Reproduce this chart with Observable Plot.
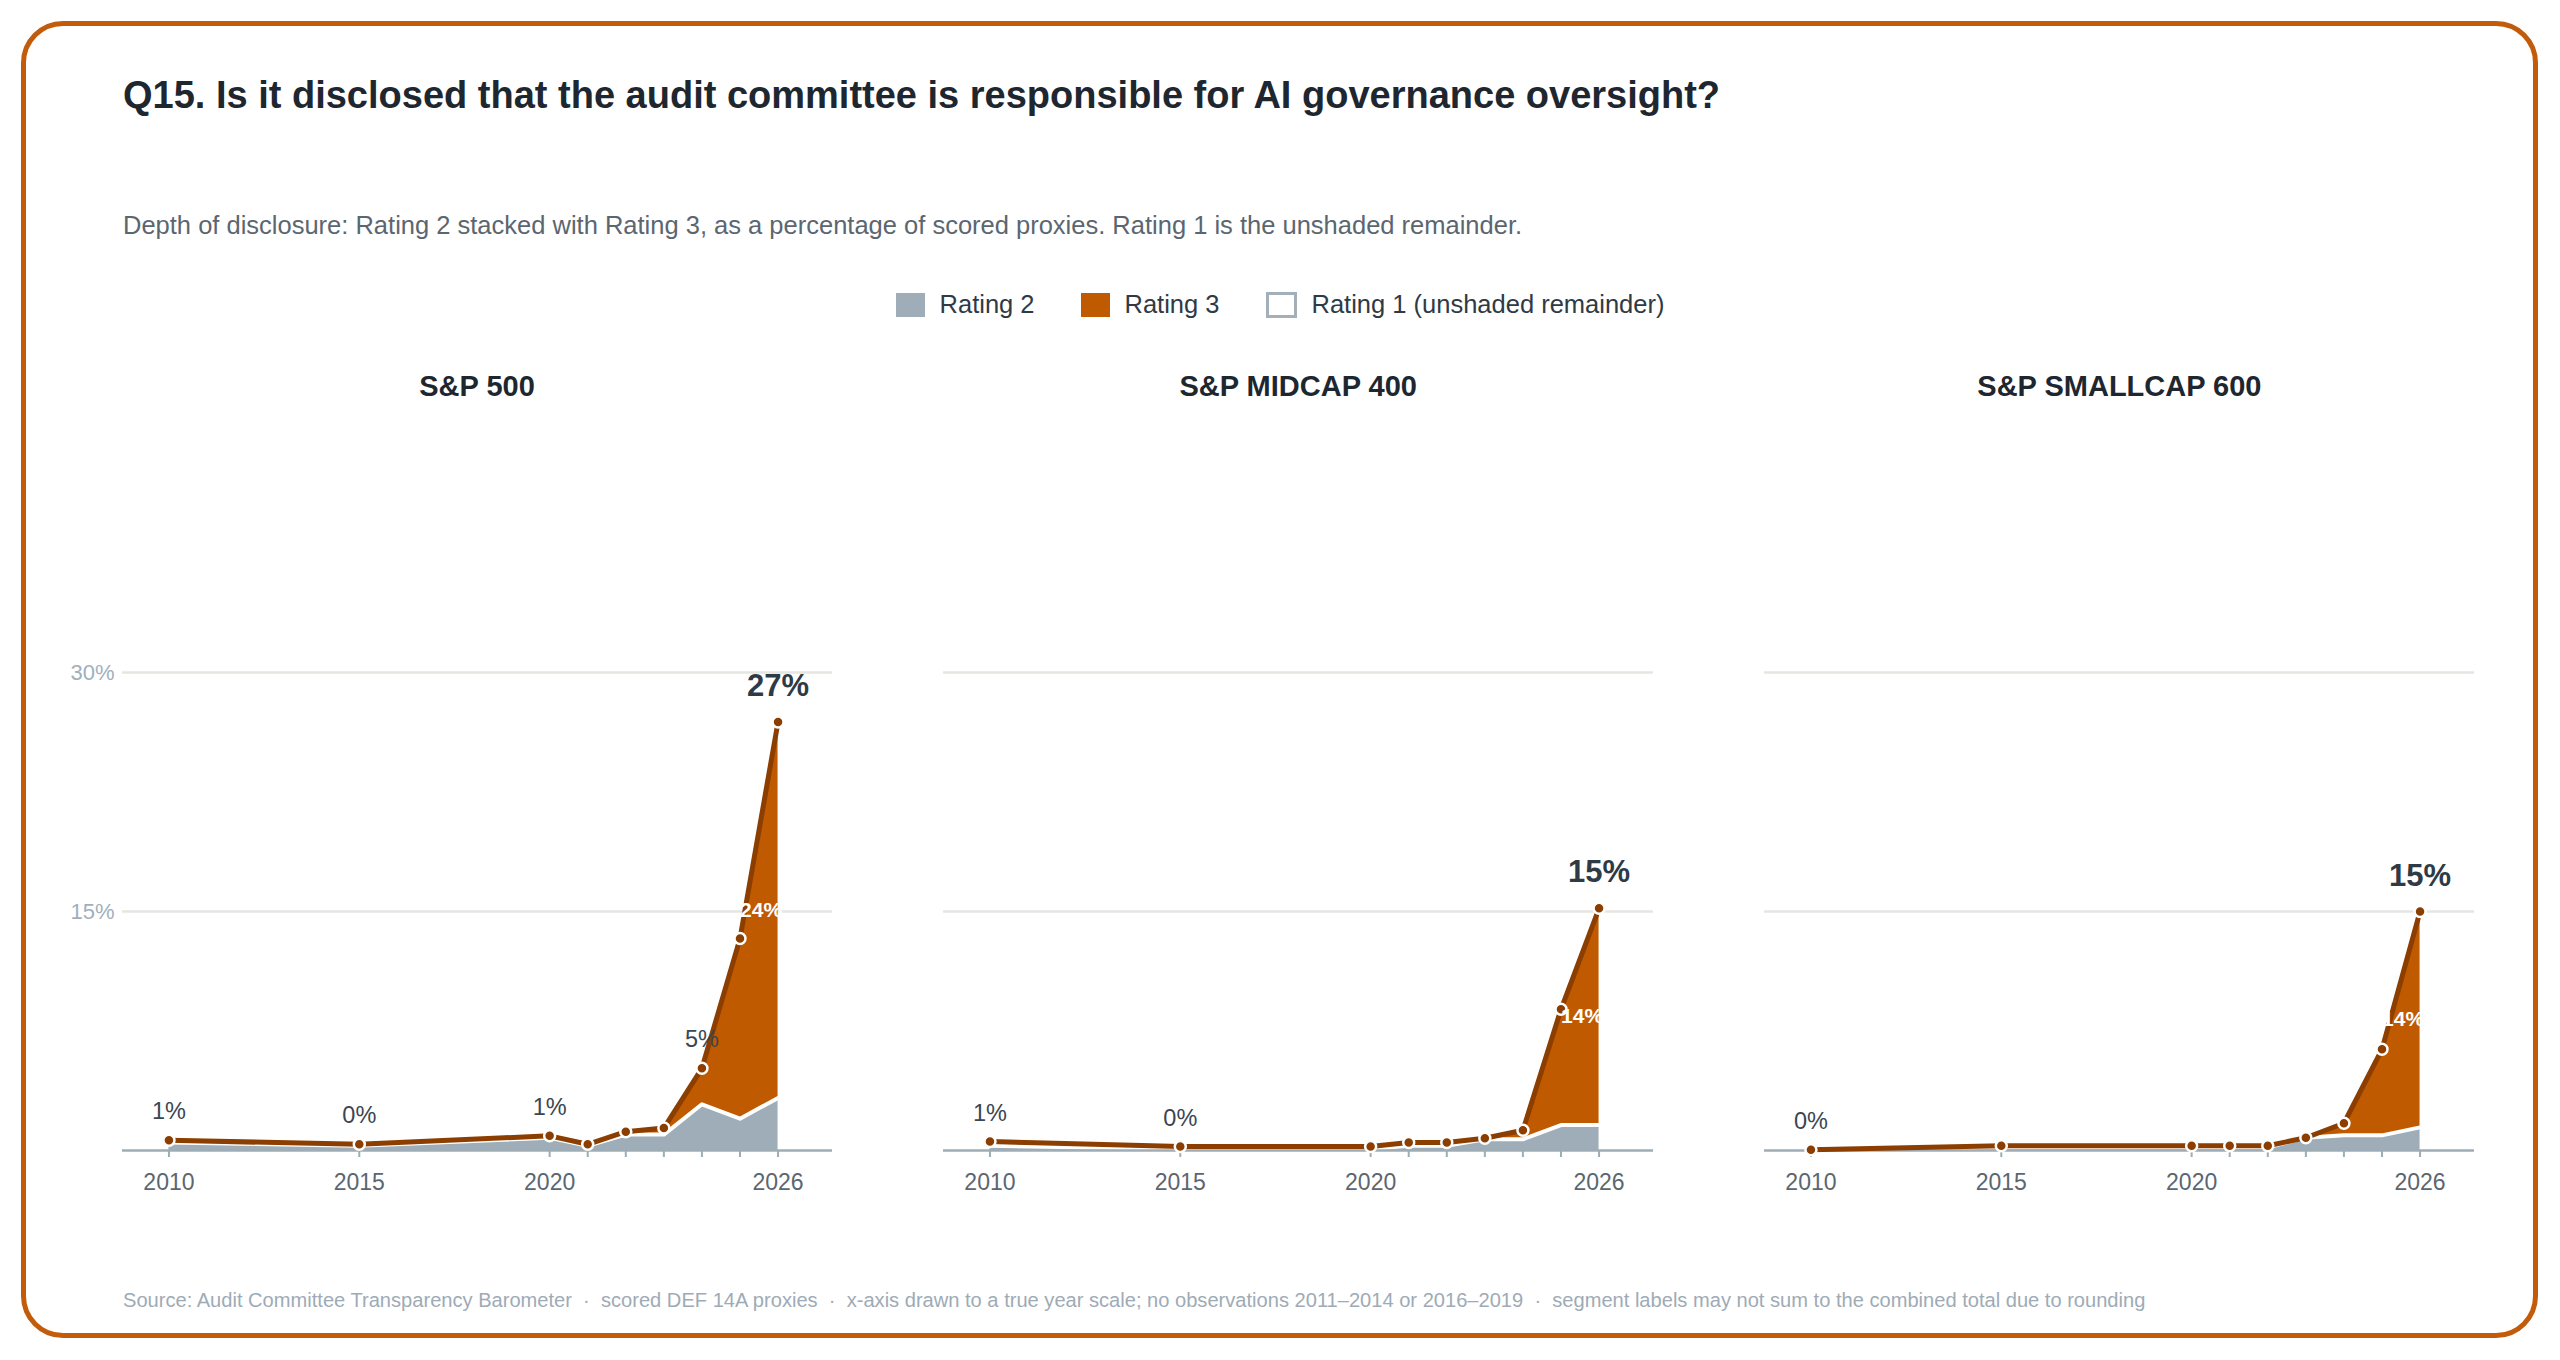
<!DOCTYPE html>
<html>
<head>
<meta charset="utf-8">
<script src="https://cdn.jsdelivr.net/npm/d3@7"></script>
<script src="https://cdn.jsdelivr.net/npm/@observablehq/plot@0.6"></script>
<style>
  html, body { margin: 0; padding: 0; background: #fff; }
  #root { position: relative; width: 2560px; height: 1360px; overflow: hidden;
          font-family: "Liberation Sans", Arial, sans-serif; }
  .frame { position: absolute; left: 21px; top: 21px; width: 2517px; height: 1317px;
           box-sizing: border-box; border: 5px solid #c25b0a; border-radius: 42px; }
  .txt { position: absolute; line-height: 1; white-space: pre; }
  #title { left: 123px; top: 76px; font-size: 38px; font-weight: bold; color: #1e2730; }
  #subtitle { left: 123px; top: 213px; font-size: 25.5px; color: #5b6670; }
  #legend { position: absolute; left: 0; top: 292px; width: 2560px; height: 26px;
            display: flex; justify-content: center; align-items: center;
            font-size: 25.5px; line-height: 1; color: #2f3a45; }
  .item { display: flex; align-items: center; margin: 0 23px; }
  .sw { width: 29px; height: 24px; margin-right: 15px; box-sizing: border-box; }
  .ptitle { position: absolute; top: 371.5px; width: 710px; text-align: center; font-size: 29px;
            font-weight: bold; color: #1e2730; line-height: 1; }
  .panel { position: absolute; top: 591.5px; }
  #footer { left: 123px; top: 1290px; font-size: 20.1px; color: #9eabb6; }
</style>
</head>
<body>
<div id="root">
  <div class="frame"></div>
  <div class="txt" id="title"></div>
  <div class="txt" id="subtitle"></div>
  <div id="legend"></div>
  <div class="txt" id="footer"></div>
</div>
<script>
// ---- data ----
const years = [2010, 2015, 2020, 2021, 2022, 2023, 2024, 2025, 2026];
const indexNames = ["S&P 500", "S&P MIDCAP 400", "S&P SMALLCAP 600"];
const rating2SP500    = [0.50, 0.30, 0.80, 0.30, 1.00, 1.00, 2.90, 2.00, 3.30];
const rating3SP500    = [0.14, 0.09, 0.12, 0.09, 0.18, 0.41, 2.26, 11.30, 23.60];
const rating2Midcap   = [0.30, 0.10, 0.10, 0.30, 0.30, 0.70, 0.70, 1.60, 1.60];
const rating3Midcap   = [0.26, 0.15, 0.15, 0.20, 0.20, 0.07, 0.57, 7.26, 13.60];
const rating2Smallcap = [0.00, 0.20, 0.20, 0.20, 0.20, 0.80, 0.95, 0.95, 1.45];
const rating3Smallcap = [0.05, 0.10, 0.10, 0.10, 0.10, 0.00, 0.76, 5.40, 13.55];
const labelYears = [[2010, 2015, 2020, 2024], [2010, 2015], [2010]];
const xTickLabels = [2010, 2015, 2020, 2026];
const yTicks = [15, 30];
const legendItems = ["Rating 2", "Rating 3", "Rating 1 (unshaded remainder)"];

const titleText = "Q15. Is it disclosed that the audit committee is responsible for AI governance oversight?";
const subtitleText = "Depth of disclosure: Rating 2 stacked with Rating 3, as a percentage of scored proxies. Rating 1 is the unshaded remainder.";
const footerText = "Source: Audit Committee Transparency Barometer  \u00b7  scored DEF 14A proxies  \u00b7  x-axis drawn to a true year scale; no observations 2011\u20132014 or 2016\u20132019  \u00b7  segment labels may not sum to the combined total due to rounding";

const rating2 = [rating2SP500, rating2Midcap, rating2Smallcap];
const rating3 = [rating3SP500, rating3Midcap, rating3Smallcap];

// ---- style ----
const FONT = '"Liberation Sans", Arial, sans-serif';
const C_R2 = "#9eadb7", C_R3 = "#c05a00", C_LINE = "#8b3e00";
const frameLefts = [122, 943.2, 1764.4];
const FRAME_W = 710, ML = 60, MR = 60;

document.getElementById("title").textContent = titleText;
document.getElementById("subtitle").textContent = subtitleText;
document.getElementById("footer").textContent = footerText;

const legend = document.getElementById("legend");
const swStyles = [
  `background:${C_R2}`,
  `background:${C_R3}`,
  `background:#fff;border:3px solid #a3b0ba;width:31px;height:26px`
];
legendItems.forEach((t, i) => {
  const it = document.createElement("div");
  it.className = "item";
  it.innerHTML = `<div class="sw" style="${swStyles[i]}"></div><span>${t}</span>`;
  legend.appendChild(it);
});

const fmt = v => Math.round(v) + "%";
const root = document.getElementById("root");

indexNames.forEach((name, i) => {
  const data = years.map((year, j) => ({
    year, r2: rating2[i][j], r3: rating3[i][j], total: rating2[i][j] + rating3[i][j]
  }));
  const last = data[data.length - 1];
  const labeled = data.filter(d => labelYears[i].includes(d.year));

  const marks = [
    Plot.gridY(yTicks, {stroke: "#e6e6e0", strokeOpacity: 1, strokeWidth: 2.5}),
    Plot.areaY(data, {x: "year", y1: 0, y2: "r2", fill: C_R2}),
    Plot.areaY(data, {x: "year", y1: "r2", y2: "total", fill: C_R3}),
    Plot.lineY(data, {x: "year", y: "r2", stroke: "white", strokeWidth: 4}),
    Plot.ruleY([0], {stroke: "#9eacb6", strokeWidth: 2.5}),
    Plot.axisX(years, {tickSize: 7, tickPadding: 16, stroke: "#9eacb6", strokeWidth: 2,
      tickFormat: d => xTickLabels.includes(d) ? String(d) : "",
      fontSize: 23, fill: "#5b6670", label: null}),
    Plot.lineY(data, {x: "year", y: "total", stroke: C_LINE, strokeWidth: 5}),
    Plot.dot(data, {x: "year", y: "total", r: 5.5, fill: C_LINE, stroke: "white", strokeWidth: 2.5}),
    Plot.text(labeled, {x: "year", y: "total", text: d => fmt(d.total), dy: -21,
      lineAnchor: "bottom", fontSize: 23.5, fill: "#3a4652"}),
    Plot.text([last], {x: "year", y: "total", text: d => fmt(d.total), dy: -26,
      lineAnchor: "bottom", fontSize: 31, fontWeight: "bold", fill: "#2e3a46"}),
    Plot.text([last], {x: "year", y: d => d.r2 + d.r3 / 2, text: d => fmt(d.r3),
      textAnchor: "end", dx: 4, fontSize: 21, fontWeight: "bold", fill: "white"})
  ];
  if (i === 0) {
    marks.splice(1, 0, Plot.axisY(yTicks, {tickSize: 0, tickPadding: 8, tickFormat: d => d + "%",
      fontSize: 22, fill: "#9fb0bc", label: null}));
  }

  const chart = Plot.plot({
    width: ML + FRAME_W + MR,
    height: 618,
    marginLeft: ML, marginRight: MR, marginTop: 80, marginBottom: 60,
    x: {domain: [2008.78, 2027.43], axis: null},
    y: {domain: [0, 30], axis: null},
    style: {fontFamily: FONT, fontSize: "22px", background: "transparent", overflow: "visible"},
    marks
  });
  chart.classList.add("panel");
  chart.style.left = (frameLefts[i] - ML) + "px";
  chart.style.position = "absolute";
  root.appendChild(chart);

  const t = document.createElement("div");
  t.className = "ptitle";
  t.style.left = frameLefts[i] + "px";
  t.textContent = name;
  root.appendChild(t);
});
</script>
</body>
</html>
